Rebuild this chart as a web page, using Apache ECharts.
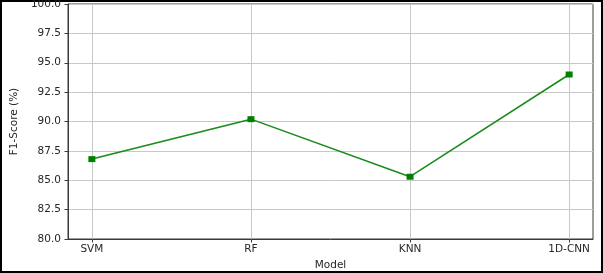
<!DOCTYPE html>
<html><head><meta charset="utf-8">
<script src="https://cdn.jsdelivr.net/npm/echarts@6/dist/echarts.min.js"></script>
<style>html,body{margin:0;padding:0;background:#fff}#c{width:603px;height:273px}</style>
</head><body><div id="c"></div>
<script>
const categories = ['SVM', 'RF', 'KNN', '1D-CNN'];
const f1Scores = [86.8, 90.2, 85.3, 94.0];
const yTicks = [80, 82.5, 85, 87.5, 90, 92.5, 95, 97.5, 100];

const chart = echarts.init(document.getElementById('c'), null, {renderer: 'canvas'});
const idx = categories.map((_, i) => i);
const txt = '#262626';
const font = {color: txt, fontSize: 10.5, fontFamily: 'DejaVu Sans'};
const spine = {show: true, onZero: false, lineStyle: {color: '#3a3a3a', width: 1}};
chart.setOption({
  animation: false,
  grid: {left: 68, right: 10, top: 4, bottom: 34, show: true, borderColor: '#3a3a3a', borderWidth: 1, containLabel: false, outerBoundsMode: 'none'},
  graphic: [{type: 'rect', shape: {x: 1, y: 1, width: 601, height: 271}, style: {fill: 'none', stroke: '#000', lineWidth: 2}, silent: true}],
  xAxis: {
    type: 'value', min: -0.15, max: 3.15,
    name: 'Model', nameLocation: 'middle', nameGap: 16,
    nameTextStyle: font,
    axisLine: spine,
    axisTick: {show: true, customValues: idx, length: 3.5, inside: false, lineStyle: {color: '#3a3a3a', width: 1}},
    axisLabel: Object.assign({customValues: idx, formatter: v => categories[Math.round(v)], margin: 5}, font),
    splitLine: {show: true, lineStyle: {color: '#c8c8c8', width: 1}}
  },
  yAxis: {
    type: 'value', min: 80, max: 100, interval: 2.5,
    name: 'F1-Score (%)', nameLocation: 'middle', nameGap: 48,
    nameTextStyle: font,
    axisLine: spine,
    axisTick: {show: true, length: 3.5, lineStyle: {color: '#3a3a3a'}},
    axisLabel: Object.assign({formatter: v => v.toFixed(1), margin: 7}, font),
    splitLine: {show: true, lineStyle: {color: '#c8c8c8', width: 1}}
  },
  series: [{
    type: 'line',
    data: f1Scores.map((v, i) => [i, v]),
    symbol: 'rect', symbolSize: [7, 6],
    lineStyle: {color: '#1a8a1a', width: 1.5},
    itemStyle: {color: '#008000'}
  }]
});
</script></body></html>
